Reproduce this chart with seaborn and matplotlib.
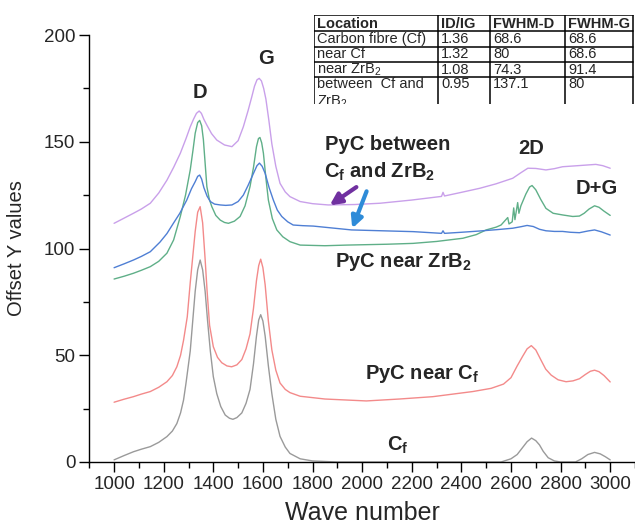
import matplotlib
matplotlib.use("Agg")
import matplotlib.pyplot as plt
from matplotlib.ticker import MultipleLocator
import seaborn as sns
import pandas as pd

# Raman spectra, values
cf_x = [1000, 1040, 1078, 1110, 1146, 1180, 1213, 1235, 1253, 1268, 1280, 1290, 1307, 1317, 1327, 1337,
        1347, 1357, 1367, 1377, 1388, 1400, 1414, 1430, 1448, 1465, 1479, 1495, 1515, 1532, 1548, 1562,
        1574, 1583, 1591, 1600, 1609, 1622, 1636, 1652, 1669, 1690, 1709, 1750, 1800, 1900, 2000, 2200,
        2400, 2560, 2600, 2625, 2645, 2665, 2683, 2700, 2715, 2730, 2750, 2775, 2800, 2860, 2885, 2910,
        2937, 2960, 2980, 3000]
cf_y = [1, 3, 4.8, 6, 7.2, 9.2, 11.9, 14.5, 18, 23, 29, 37, 52, 66, 80, 90,
        94.6, 90, 80, 66, 52, 40, 32, 26, 22, 20.5, 20, 20.8, 23, 27.5, 34, 46,
        59, 66.5, 69, 66, 59, 45, 32, 20, 12, 7, 4, 1.5, 0.5, 0, 0, 0,
        0, 0, 1.5, 3.5, 6.5, 9.5, 11.2, 10, 8, 5, 2, 0.5, 0, 0, 1.5, 3.5,
        4.5, 3.8, 2.5, 1]

near_cf_x = [1000, 1040, 1078, 1110, 1146, 1180, 1213, 1235, 1253, 1268, 1280, 1295, 1307, 1317, 1327, 1337,
             1347, 1357, 1367, 1375, 1385, 1400, 1417, 1434, 1455, 1474, 1495, 1515, 1532, 1548, 1562, 1574,
             1583, 1591, 1600, 1609, 1622, 1636, 1652, 1669, 1690, 1709, 1750, 1850, 2017, 2150, 2285, 2446,
             2520, 2570, 2600, 2625, 2647, 2665, 2682, 2700, 2722, 2740, 2762, 2790, 2822, 2850, 2876, 2900,
             2920, 2937, 2955, 2975, 3000]
near_cf_y = [28, 29.4, 30.6, 31.8, 33, 35, 37.6, 40.5, 44.6, 50, 57, 68, 84, 96, 108, 117,
             119.6, 112, 95, 80, 64, 54, 49, 46.5, 45, 44.6, 45.5, 48, 53, 60, 72, 85,
             92, 95, 91, 83, 66, 52.5, 43, 37, 34, 32.5, 30.8, 29.5, 28.6, 29.5, 30.6, 33,
             34.5, 36.5, 39.5, 45, 49.5, 53, 54.5, 52.5, 47.5, 43.5, 40.7, 38.5, 37.6, 38, 39, 41,
             42.5, 43, 42.3, 40.5, 37.5]

near_zrb2_x = [1000, 1040, 1078, 1110, 1146, 1180, 1213, 1240, 1267, 1288, 1307, 1318, 1327, 1337, 1345, 1353,
               1360, 1367, 1374, 1384, 1394, 1410, 1428, 1445, 1461, 1485, 1508, 1528, 1548, 1562, 1574, 1582,
               1588, 1595, 1602, 1612, 1622, 1638, 1656, 1680, 1709, 1750, 1850, 1937, 2100, 2205, 2300, 2406,
               2460, 2500, 2540, 2560, 2587, 2592, 2605, 2611, 2616, 2627, 2632, 2640, 2660, 2675, 2685, 2700,
               2720, 2741, 2770, 2809, 2849, 2876, 2895, 2915, 2937, 2955, 2975, 3000]
near_zrb2_y = [85.7, 87, 88.4, 89.8, 91.5, 94, 97.8, 104, 115, 125, 136.8, 146, 154, 159, 160, 157.5,
               151, 140, 129, 123, 119.6, 115.5, 113.3, 112.2, 111.8, 112.8, 115, 120, 129, 138, 147.7, 151.5,
               152, 149.5, 144.6, 133, 122.7, 114, 108.7, 105.5, 103.2, 101.6, 101.3, 101.6, 102, 102.4, 103.3, 104.8,
               106.5, 108.7, 110, 111, 114.5, 111.5, 112.5, 119, 113.5, 121.5, 116.5, 120, 125.5, 128.8, 129.5, 127.5,
               123, 118.8, 116.5, 115.7, 115, 115.2, 116.5, 118.5, 120, 119.3, 117.5, 115.5]

between_x = [1000, 1040, 1078, 1110, 1146, 1185, 1213, 1239, 1265, 1293, 1312, 1327, 1337, 1345, 1353, 1362,
             1375, 1388, 1405, 1428, 1450, 1475, 1500, 1521, 1540, 1562, 1576, 1586, 1597, 1609, 1625, 1642,
             1658, 1676, 1700, 1722, 1760, 1803, 1880, 1957, 2080, 2206, 2320, 2326, 2332, 2400, 2474, 2540,
             2607, 2640, 2665, 2690, 2715, 2741, 2775, 2808, 2840, 2876, 2910, 2937, 2965, 3000]
between_y = [91, 92.8, 94.6, 96.3, 98.5, 103, 107, 111.8, 116.5, 122.7, 128, 131.3, 133.8, 134.4, 132.5, 128.5,
             124.5, 122, 120.8, 120.4, 120.2, 120.4, 122, 125, 129.5, 135.2, 138.8, 140, 138.5, 135.2, 128.5, 122.7,
             118, 115, 112.5, 111, 110.7, 110.5, 109.6, 108.7, 108.3, 107.9, 107.1, 108.3, 107.1, 107.6, 108.2, 108.8,
             109.5, 110.2, 110.8, 110.3, 109, 108.3, 108, 108, 107.6, 107.4, 108.2, 108.7, 107.8, 106.3]

top_x = [1000, 1040, 1078, 1110, 1146, 1180, 1213, 1240, 1267, 1290, 1307, 1320, 1332, 1343, 1352, 1362,
         1374, 1393, 1414, 1445, 1475, 1500, 1521, 1540, 1555, 1566, 1576, 1585, 1594, 1603, 1612, 1624,
         1636, 1652, 1669, 1690, 1709, 1750, 1800, 1863, 1970, 2072, 2200, 2320, 2326, 2332, 2400, 2474,
         2540, 2607, 2640, 2668, 2700, 2741, 2775, 2808, 2870, 2942, 2970, 3000]
top_y = [111.8, 114.2, 116.5, 118.5, 121.2, 126, 132, 138, 144.6, 151.5, 157, 160.5, 163.3, 164.4, 163.3, 160.5,
         157.8, 153.8, 150.8, 148.5, 147.7, 150.5, 157, 164.5, 171, 176, 179, 179.7, 178.5, 175, 170, 160,
         149, 138.5, 130.5, 126.5, 124.3, 122, 121, 120.4, 120.6, 121.2, 122.7, 124.4, 126.3, 124.6, 126.3, 128.2,
         130.3, 132.9, 135.5, 137.6, 137.5, 136.8, 137.4, 138.3, 138.8, 139.4, 138.8, 137.6]

# table in the top right corner
table_cols = ["Location", "ID/IG", "FWHM-D", "FWHM-G"]
table_locations = ["Carbon fibre (Cf)", "near Cf", r"near ZrB$\mathrm{_2}$", "between  Cf and\nZrB$\\mathrm{_2}$"]
table_idig = ["1.36", "1.32", "1.08", "0.95"]
table_fwhm_d = ["68.6", "80", "74.3", "137.1"]
table_fwhm_g = ["68.6", "68.6", "91.4", "80"]

sns.set_style("ticks")
plt.rcParams["font.family"] = ["Liberation Sans", "DejaVu Sans"]
plt.rcParams["mathtext.fontset"] = "custom"
plt.rcParams["mathtext.rm"] = "Liberation Sans"
plt.rcParams["mathtext.bf"] = "Liberation Sans:bold"

fig = plt.figure(figsize=(6.35, 5.28), dpi=100)
ax = fig.add_axes([0.1406, 0.1250, 0.8594, 0.8087])

series = [
    (cf_x, cf_y, "#9a9a9a"),
    (near_cf_x, near_cf_y, "#f38a8a"),
    (near_zrb2_x, near_zrb2_y, "#5faf88"),
    (between_x, between_y, "#4f7fd4"),
    (top_x, top_y, "#c9a0ea"),
]
for xs, ys, col in series:
    df = pd.DataFrame({"wn": xs, "y": ys})
    sns.lineplot(data=df, x="wn", y="y", color=col, linewidth=1.0, ax=ax)

ax.set_xlim(900, 3100)
ax.set_ylim(0, 200)
ax.xaxis.set_minor_locator(MultipleLocator(100))
ax.yaxis.set_major_locator(MultipleLocator(50))
ax.yaxis.set_minor_locator(MultipleLocator(25))
ax.set_xticks(range(1000, 3001, 200))
ax.tick_params(which="major", length=7, width=1, labelsize=13.5, color="black", pad=3)
ax.tick_params(which="minor", length=4, width=1, color="black")
sns.despine(ax=ax)
for s in ["left", "bottom"]:
    ax.spines[s].set_color("black")
    ax.spines[s].set_linewidth(1)
ax.set_xlabel("Wave number", fontsize=18, labelpad=6)
ax.set_ylabel("Offset Y values", fontsize=14.5, labelpad=13)

bold = dict(fontsize=14.5, fontweight="bold", ha="center", va="center")
ax.text(1347, 173, "D", **bold)
ax.text(1613, 189, "G", **bold)
ax.text(2683, 147, "2D", **bold)
ax.text(2945, 128, "D+G", **bold)
ax.text(2102, 148.5, "PyC between", **bold)
ax.text(2071, 136, r"C$_\mathbf{f}$ and ZrB$_\mathbf{2}$", **bold)
ax.text(2165, 93.5, r"PyC near ZrB$_\mathbf{2}$", **bold)
ax.text(2240, 41, r"PyC near C$_\mathbf{f}$", **bold)
ax.text(2145, 8, r"C$_\mathbf{f}$", **bold)

ax.annotate("", xy=(1860, 119.5), xytext=(1986, 129.5),
            arrowprops=dict(arrowstyle="-|>", lw=3, color="#7030a0", mutation_scale=17))
ax.annotate("", xy=(1956, 108.2), xytext=(2022, 128),
            arrowprops=dict(arrowstyle="-|>", lw=3, color="#2e8bd8", mutation_scale=17))

# table drawn in pixel coordinates
tab = fig.add_axes([314 / 635, 1 - 104 / 528, 320 / 635, 89 / 528])
tab.set_xlim(314, 634)
tab.set_ylim(104, 15)
tab.set_xticks([])
tab.set_yticks([])
for s in tab.spines.values():
    s.set_visible(False)
tab.set_facecolor("white")
col_edges = [314, 438, 490, 565, 633]
row_edges = [15, 31, 46.5, 61.5, 76.5]
for cx in col_edges:
    tab.plot([cx, cx], [15, 104], color="black", lw=1.1)
for ry in row_edges:
    tab.plot([314, 633], [ry, ry], color="black", lw=1.1)
for j, name in enumerate(table_cols):
    tab.text(col_edges[j] + 3, 23.5, name, fontsize=10.5, fontweight="bold", va="center")
rows = list(zip(table_locations, table_idig, table_fwhm_d, table_fwhm_g))
for i, row in enumerate(rows):
    for j, val in enumerate(row):
        if i < 3:
            tab.text(col_edges[j] + 3, (row_edges[i + 1] + row_edges[i + 2]) / 2 + 0.5, val,
                     fontsize=10.5, va="center", clip_on=True)
        else:
            tab.text(col_edges[j] + 3, 77.5, val, fontsize=10.5, va="top",
                     linespacing=1.2, clip_on=True)

fig.savefig("out.png", dpi=100)
